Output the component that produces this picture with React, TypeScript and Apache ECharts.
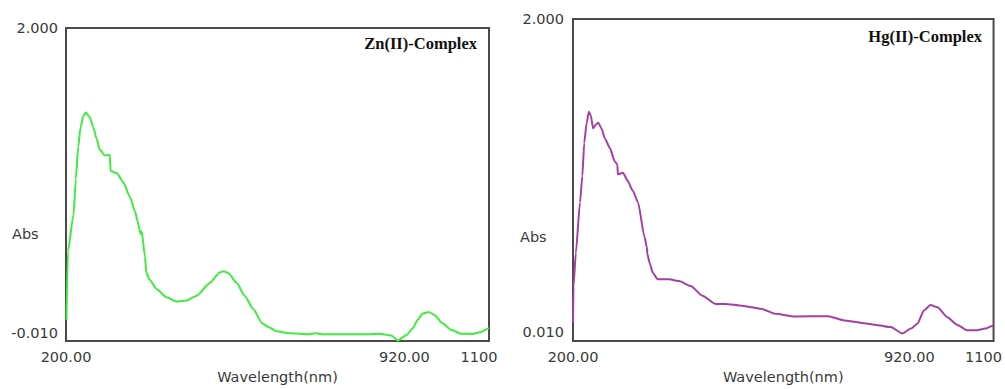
import React, { useEffect, useRef } from "react";
import * as echarts from "echarts";

const xTicks = [200, 920, 1100];
const znYTicks = [-0.01, 2.0];
const hgYTicks = [0.01, 2.0];

const znWavelength = [201, 204, 216, 221, 226, 231, 237, 242, 251, 258, 265, 272, 283, 293, 295, 308, 322, 336, 347, 352, 359, 361, 368, 371, 378, 393, 414, 435, 456, 478, 506, 527, 536, 545, 563, 580, 598, 618, 633, 648, 676, 718, 730, 745, 767, 839, 867, 892, 906, 924, 938, 948, 959, 972, 984, 1001, 1019, 1040, 1065, 1083, 1097, 1100];
const znAbs = [0.08, 0.53, 0.771, 1.006, 1.219, 1.347, 1.422, 1.443, 1.411, 1.347, 1.272, 1.198, 1.16, 1.166, 1.059, 1.044, 0.984, 0.888, 0.792, 0.73, 0.643, 0.66, 0.496, 0.387, 0.342, 0.28, 0.227, 0.199, 0.206, 0.238, 0.322, 0.391, 0.398, 0.387, 0.323, 0.238, 0.152, 0.054, 0.028, 0.003, -0.01, -0.016, -0.01, -0.016, -0.016, -0.016, -0.012, -0.025, -0.057, -0.023, 0.024, 0.078, 0.12, 0.131, 0.11, 0.056, 0.014, -0.012, -0.014, -0.002, 0.02, 0.025];

const hgWavelength = [200, 201, 206, 215, 220, 224, 229, 234, 238, 243, 248, 254, 261, 268, 279, 289, 295, 296, 307, 317, 328, 339, 353, 358, 359, 364, 371, 381, 406, 427, 452, 477, 505, 526, 562, 604, 633, 675, 746, 781, 831, 852, 880, 905, 923, 937, 951, 965, 980, 1001, 1022, 1043, 1064, 1082, 1097, 1100];
const hgAbs = [0.07, 0.3, 0.512, 0.836, 1.003, 1.211, 1.337, 1.41, 1.389, 1.305, 1.326, 1.341, 1.305, 1.243, 1.18, 1.097, 1.076, 1.013, 1.024, 0.972, 0.909, 0.836, 0.617, 0.55, 0.51, 0.45, 0.387, 0.346, 0.346, 0.335, 0.304, 0.242, 0.19, 0.19, 0.179, 0.158, 0.127, 0.11, 0.112, 0.085, 0.064, 0.054, 0.043, 0.002, 0.033, 0.064, 0.148, 0.183, 0.168, 0.106, 0.058, 0.023, 0.023, 0.033, 0.049, 0.055];

const FONT = "DejaVu Sans";
const TICK_COLOR = "#3a3a3a";

function xLabel(v: number) {
  return v === 1100 ? "{r|1100}" : v.toFixed(2);
}

export default function App() {
  const ref = useRef<HTMLDivElement>(null);
  useEffect(() => {
    if (!ref.current) return;
    const chart = echarts.init(ref.current, undefined, { renderer: "svg" });
    const xAxisBase = (gridIndex: number, gap: number) => ({
      type: "value" as const,
      gridIndex,
      min: 200,
      max: 1100,
      axisLine: { show: false },
      axisTick: { show: false },
      splitLine: { show: false },
      name: "Wavelength(nm)",
      nameLocation: "middle" as const,
      nameGap: gap,
      nameTextStyle: { fontFamily: FONT, fontSize: 14.5, color: TICK_COLOR },
      axisLabel: {
        customValues: xTicks,
        formatter: xLabel,
        margin: 8,
        fontFamily: FONT,
        fontSize: 14.5,
        color: TICK_COLOR,
        rich: { r: { fontFamily: FONT, fontSize: 14.5, color: TICK_COLOR, padding: [0, 20, 0, 0] } },
      },
    });
    const yAxisBase = (gridIndex: number, min: number, ticks: number[], margin: number) => ({
      type: "value" as const,
      gridIndex,
      min,
      max: 2.0,
      axisLine: { show: false },
      axisTick: { show: false },
      splitLine: { show: false },
      axisLabel: {
        customValues: ticks,
        formatter: (v: number) => v.toFixed(3),
        margin,
        fontFamily: FONT,
        fontSize: 14.5,
        color: TICK_COLOR,
      },
    });
    chart.setOption({
      animation: false,
      backgroundColor: "#ffffff",
      grid: [
        { left: 66, top: 28, width: 423, height: 322, show: true, borderColor: "#4a4a4a", borderWidth: 2, backgroundColor: "#ffffff" },
        { left: 573, top: 19, width: 424, height: 327, show: true, borderColor: "#4a4a4a", borderWidth: 2, backgroundColor: "#ffffff" },
      ],
      xAxis: [xAxisBase(0, 24), xAxisBase(1, 25)],
      yAxis: [yAxisBase(0, -0.0612, znYTicks, 8), yAxisBase(1, -0.0463, hgYTicks, 9)],
      series: [
        {
          type: "line",
          xAxisIndex: 0,
          yAxisIndex: 0,
          showSymbol: false,
          symbol: "none",
          smooth: 0.2,
          smoothMonotone: "x",
          lineStyle: { color: "#3ded3d", width: 2 },
          data: znWavelength.map((w, i) => [w, znAbs[i]]),
        },
        {
          type: "line",
          xAxisIndex: 1,
          yAxisIndex: 1,
          showSymbol: false,
          symbol: "none",
          smooth: 0.2,
          smoothMonotone: "x",
          lineStyle: { color: "#a43fa4", width: 2 },
          data: hgWavelength.map((w, i) => [w, hgAbs[i]]),
        },
      ],
      graphic: [
        { type: "text", left: 12, top: 226, style: { text: "Abs", font: `14.5px '${FONT}'`, fill: TICK_COLOR } },
        { type: "text", left: 520, top: 229, style: { text: "Abs", font: `14.5px '${FONT}'`, fill: TICK_COLOR } },
        { type: "text", right: 1005 - 477, top: 35, style: { text: "Zn(II)-Complex", font: `bold 16.5px 'Liberation Serif'`, fill: "#111" } },
        { type: "text", right: 1005 - 982, top: 28, style: { text: "Hg(II)-Complex", font: `bold 16.5px 'Liberation Serif'`, fill: "#111" } },
      ],
    });
    return () => chart.dispose();
  }, []);
  return <div ref={ref} style={{ position: "absolute", left: 0, top: 0, width: 1005, height: 389 }} />;
}
